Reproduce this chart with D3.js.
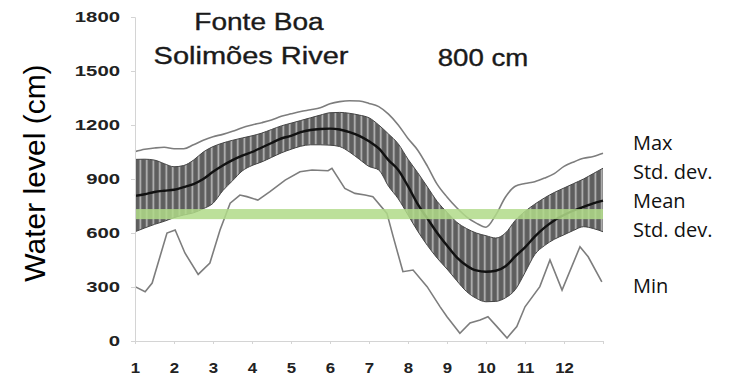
<!DOCTYPE html>
<html lang="en">
<head>
    <meta charset="UTF-8">
    <title>Fonte Boa water level</title>
    <script src="https://d3js.org/d3.v7.min.js"></script>
    <style>
        body { margin: 0; background: white; }
        .tick text { font-family: "Liberation Sans", Arial, sans-serif; font-weight: bold; fill: #222; }
        .legend { font-family: "Open Sans", sans-serif; font-size: 20px; fill: #111; }
        .title { font-family: "Liberation Sans", Arial, sans-serif; font-size: 23px; fill: #1a1a1a; stroke: #1a1a1a; stroke-width: 0.35px; }
    </style>
</head>
<body>
    <svg id='svg'></svg>
    <script>
        // months as fractional positions (1 = start of January, 13 = end of December)
        const months = [1, 1.25, 1.5, 1.75, 2, 2.25, 2.5, 2.75, 3, 3.25, 3.5, 3.75, 4, 4.25, 4.5, 4.75,
            5, 5.25, 5.5, 5.75, 6, 6.25, 6.5, 6.75, 7, 7.25, 7.5, 7.75, 8, 8.25, 8.5, 8.75,
            9, 9.25, 9.5, 9.75, 10, 10.25, 10.5, 10.75, 11, 11.25, 11.5, 11.75, 12, 12.25, 12.5, 12.75, 13];
        const maxLevel = [1052, 1065, 1072, 1076, 1068, 1068, 1090, 1115, 1135, 1148, 1165, 1185, 1200, 1213, 1228, 1248,
            1262, 1275, 1285, 1296, 1318, 1330, 1335, 1333, 1320, 1302, 1260, 1200, 1125, 1060, 970, 870,
            800, 740, 690, 655, 632, 700, 800, 860, 875, 885, 905, 930, 970, 995, 1015, 1025, 1043];
        const upperSd = [1009, 1010, 1005, 985, 968, 975, 1005, 1050, 1080, 1100, 1115, 1128, 1140, 1155, 1175, 1195,
            1210, 1225, 1240, 1255, 1268, 1270, 1265, 1255, 1240, 1200, 1150, 1095, 1010, 935, 855, 775,
            715, 660, 625, 600, 585, 572, 600, 670, 720, 760, 795, 825, 850, 875, 900, 930, 960];
        const meanLevel = [806, 815, 828, 835, 840, 855, 872, 900, 940, 975, 1005, 1030, 1050, 1075, 1100, 1125,
            1140, 1160, 1172, 1178, 1180, 1175, 1160, 1140, 1110, 1070, 1005, 950, 860, 760, 680, 600,
            530, 465, 420, 392, 385, 390, 415, 470, 520, 580, 630, 670, 700, 725, 745, 765, 780];
        const lowerSd = [607, 628, 648, 665, 685, 700, 712, 735, 765, 835, 890, 945, 975, 995, 1020, 1045,
            1065, 1082, 1090, 1090, 1088, 1080, 1050, 1010, 970, 950, 860, 790, 700, 610, 530, 460,
            400, 335, 275, 237, 218, 220, 240, 285, 380, 480, 530, 565, 590, 615, 635, 625, 607];
        const minMonth = [1, 1.26, 1.44, 1.82, 2.03, 2.28, 2.62, 2.92, 3.18, 3.44, 3.69, 3.87, 4.15, 4.46, 4.85,
            5.23, 5.54, 5.95, 6.05, 6.38, 6.64, 6.9, 7.1, 7.46, 7.62, 7.87, 8.13, 8.49, 8.82, 9, 9.33,
            9.59, 9.85, 10.05, 10.28, 10.54, 10.79, 11, 11.38, 11.64, 11.95, 12.41, 12.62, 12.97];
        const minLevel = [302, 274, 322, 600, 617, 489, 370, 433, 617, 766, 811, 802, 783, 830, 894,
            940, 950, 946, 959, 848, 820, 811, 802, 709, 580, 385, 394, 302, 191, 135, 43,
            100, 117, 135, 80, 17, 80, 190, 302, 450, 283, 524, 468, 329];
        const refLevel = 705;
        const yTicks = [0, 300, 600, 900, 1200, 1500, 1800];
        const xTicks = [1, 2, 3, 4, 5, 6, 7, 8, 9, 10, 11, 12];
        const legendLabels = ["Max", "Std. dev.", "Mean", "Std. dev.", "Min"];

        const width = 730;
        const height = 383;
        const svg = d3.select('#svg')
            .attr("width", width)
            .attr("height", height);

        const xScale = d3.scaleLinear().domain([1, 13]).range([135, 603]);
        const yScale = d3.scaleLinear().domain([0, 1800]).range([341, 17]);

        // stretch text horizontally, the source picture is wider than tall
        function stretch(sel, k) {
            sel.each(function() {
                const w = this.getComputedTextLength();
                d3.select(this).attr("textLength", w * k).attr("lengthAdjust", "spacingAndGlyphs");
            });
        }

        // striped band pattern
        const pat = svg.append("defs").append("pattern")
            .attr("id", "stripes")
            .attr("patternUnits", "userSpaceOnUse")
            .attr("x", 137)
            .attr("width", 6.5)
            .attr("height", 400);
        pat.append("rect").attr("width", 6.5).attr("height", 400).attr("fill", "#5e5e5e");
        pat.append("rect").attr("x", 2.5).attr("width", 1.6).attr("height", 400).attr("fill", "#bdbdbd");

        const idx = d3.range(months.length);
        const band = d3.area()
            .x(i => xScale(months[i]))
            .y0(i => yScale(lowerSd[i]))
            .y1(i => yScale(upperSd[i]))
            .curve(d3.curveMonotoneX);
        svg.append("path").attr("d", band(idx)).attr("fill", "url(#stripes)");

        function lineOf(values, xs, curve) {
            return d3.line()
                .x((d, i) => xScale(xs[i]))
                .y(d => yScale(d))
                .curve(curve)(values);
        }
        svg.append("path").attr("d", lineOf(upperSd, months, d3.curveMonotoneX))
            .attr("fill", "none").attr("stroke", "#444").attr("stroke-width", 1);
        svg.append("path").attr("d", lineOf(lowerSd, months, d3.curveMonotoneX))
            .attr("fill", "none").attr("stroke", "#444").attr("stroke-width", 1);
        svg.append("path").attr("d", lineOf(maxLevel, months, d3.curveMonotoneX))
            .attr("fill", "none").attr("stroke", "#7d7d7d").attr("stroke-width", 1.6);
        svg.append("path").attr("d", lineOf(minLevel, minMonth, d3.curveLinear))
            .attr("fill", "none").attr("stroke", "#7d7d7d").attr("stroke-width", 1.6);
        svg.append("path").attr("d", lineOf(meanLevel, months, d3.curveMonotoneX))
            .attr("fill", "none").attr("stroke", "#111").attr("stroke-width", 2.4);

        // 800 cm reference band
        svg.append("rect")
            .attr("x", xScale(1))
            .attr("width", xScale(13) - xScale(1))
            .attr("y", yScale(refLevel + 28))
            .attr("height", yScale(refLevel - 28) - yScale(refLevel + 28))
            .attr("fill", "#b0da88")
            .attr("opacity", 0.85);

        // axes
        const yAxis = svg.append("g")
            .attr("transform", "translate(135,0)")
            .call(d3.axisLeft(yScale).tickValues(yTicks).tickSize(4).tickPadding(11)
                .tickFormat(d3.format("d")));
        const xAxis = svg.append("g")
            .attr("transform", "translate(0,341)")
            .call(d3.axisBottom(xScale).tickValues(d3.range(1, 14)).tickSize(3).tickPadding(19)
                .tickFormat(d => xTicks.includes(d) ? d : ""));
        [yAxis, xAxis].forEach(g => {
            g.select(".domain").attr("stroke", "#d4d4d4");
            g.selectAll(".tick line").attr("stroke", "#d4d4d4");
            g.selectAll(".tick text").style("font-size", "14px");
        });
        stretch(yAxis.selectAll(".tick text"), 1.45);
        stretch(xAxis.selectAll(".tick text"), 1.2);

        // titles
        const t1 = svg.append("text").attr("class", "title").attr("x", 259).attr("y", 30)
            .attr("text-anchor", "middle").text("Fonte Boa");
        const t2 = svg.append("text").attr("class", "title").attr("x", 251).attr("y", 64)
            .attr("text-anchor", "middle").text("Solimões River");
        const t3 = svg.append("text").attr("class", "title").attr("x", 483).attr("y", 66)
            .attr("text-anchor", "middle").text("800 cm");
        stretch(t1, 1.22);
        stretch(t2, 1.26);
        stretch(t3, 1.2);

        svg.append("text")
            .attr("transform", "translate(45,173) rotate(-90)")
            .attr("text-anchor", "middle")
            .style("font-family", "Liberation Sans, Arial")
            .style("font-size", "30px")
            .text("Water level (cm)");

        // legend labels
        const legendY = [150, 179, 208, 237, 293];
        svg.selectAll(".legend")
            .data(legendLabels)
            .enter()
            .append("text")
            .attr("class", "legend")
            .attr("x", 633)
            .attr("y", (d, i) => legendY[i])
            .text(d => d);
    </script>
</body>
</html>
